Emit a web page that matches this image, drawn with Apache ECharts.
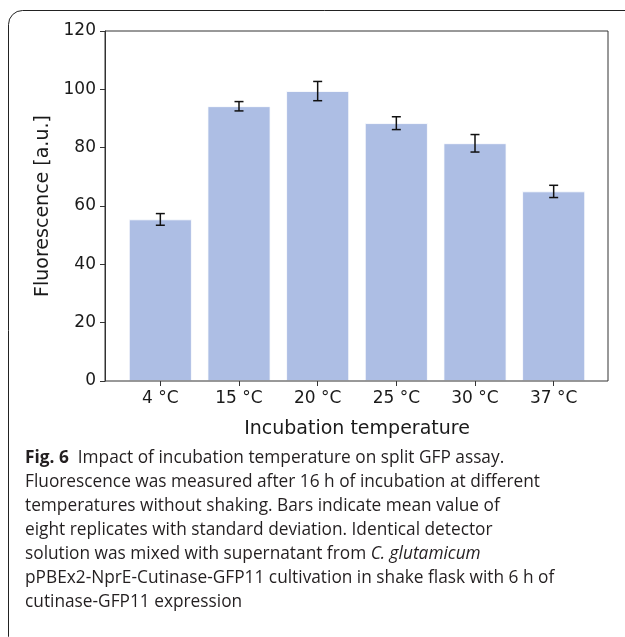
<!DOCTYPE html>
<html><head><meta charset="utf-8">
<script src="https://cdn.jsdelivr.net/npm/echarts@6/dist/echarts.min.js"></script>
<style>html,body{margin:0;padding:0;background:#fff}#c{width:625px;height:637px}</style>
</head><body><div id="c"></div>
<script>
const categories = ['4 °C', '15 °C', '20 °C', '25 °C', '30 °C', '37 °C'];
const meanValues = [55.4, 94.2, 99.4, 88.4, 81.5, 65.0];
const sdValues = [2.0, 1.6, 3.3, 2.2, 3.0, 2.1];
const yTicks = [0, 20, 40, 60, 80, 100, 120];
const yAxisTitle = 'Fluorescence [a.u.]';
const xAxisTitle = 'Incubation temperature';
const captionLines = [
  '{b|Fig. 6}  Impact of incubation temperature on split GFP assay.',
  'Fluorescence was measured after 16 h of incubation at different',
  'temperatures without shaking. Bars indicate mean value of',
  'eight replicates with standard deviation. Identical detector',
  'solution was mixed with supernatant from {i|C. glutamicum}',
  'pPBEx2-NprE-Cutinase-GFP11 cultivation in shake flask with 6 h of',
  'cutinase-GFP11 expression'
];

const capFont = '"Open Sans", "Noto Sans", sans-serif';
const capSize = 17.3;
const chart = echarts.init(document.getElementById('c'), null, {renderer: 'canvas'});

const graphics = [{
  type: 'rect', z: -10, silent: true,
  shape: {x: 8.5, y: 10.5, width: 700, height: 640, r: 14},
  style: {fill: 'none', stroke: '#222', lineWidth: 1}
}];
captionLines.forEach((line, k) => {
  graphics.push({
    type: 'text', left: 25, top: 450 + k * 24, silent: true,
    style: {
      text: line, fill: '#231f20', fontSize: capSize, fontFamily: capFont,
      rich: {
        b: {fontWeight: 'bold', fontSize: capSize, fontFamily: capFont, fill: '#231f20'},
        i: {fontStyle: 'italic', fontSize: capSize, fontFamily: capFont, fill: '#231f20'}
      }
    }
  });
});

const option = {
  animation: false,
  backgroundColor: '#fff',
  textStyle: {fontFamily: '"DejaVu Sans", sans-serif'},
  graphic: graphics,
  grid: [
    {left: 105, right: 17, top: 31, bottom: 256, show: true, borderColor: '#333', borderWidth: 1, backgroundColor: 'transparent', z: 5},
    {left: 121, right: 32, top: 31, bottom: 256, show: false}
  ],
  xAxis: [
    {gridIndex: 0, type: 'value', min: 0, max: 1, show: false},
    {gridIndex: 1, type: 'category', data: categories, boundaryGap: true,
     axisLine: {show: false},
     axisTick: {show: true, alignWithLabel: true, length: 5, lineStyle: {color: '#333', width: 1}},
     axisLabel: {fontSize: 17, color: '#1a1a1a', margin: 9, fontFamily: '"DejaVu Sans", sans-serif'},
     name: xAxisTitle, nameLocation: 'middle', nameGap: 39,
     nameTextStyle: {fontSize: 19, color: '#1a1a1a', fontFamily: '"DejaVu Sans", sans-serif'}}
  ],
  yAxis: [
    {gridIndex: 0, type: 'value', min: yTicks[0], max: yTicks[yTicks.length - 1], interval: 20,
     axisLine: {show: true, lineStyle: {color: '#333', width: 1}},
     axisTick: {show: true, length: 5, lineStyle: {color: '#333', width: 1}},
     axisLabel: {fontSize: 17, color: '#1a1a1a', margin: 9, fontFamily: '"DejaVu Sans", sans-serif'},
     splitLine: {show: false},
     name: yAxisTitle, nameLocation: 'middle', nameGap: 50,
     nameTextStyle: {fontSize: 19, color: '#1a1a1a', fontFamily: '"DejaVu Sans", sans-serif'}},
    {gridIndex: 1, type: 'value', min: yTicks[0], max: yTicks[yTicks.length - 1], show: false}
  ],
  series: [
    {type: 'bar', xAxisIndex: 1, yAxisIndex: 1, data: meanValues, barWidth: '80%',
     itemStyle: {color: '#adbee4', borderColor: '#ffffff', borderWidth: 0.8}},
    {type: 'custom', xAxisIndex: 1, yAxisIndex: 1, z: 10,
     data: categories.map((c, i) => [i, meanValues[i], sdValues[i]]),
     renderItem: function (params, api) {
       const x = api.value(0), y = api.value(1), e = api.value(2);
       const top = api.coord([x, y + e]);
       const bot = api.coord([x, y - e]);
       const hw = 4.5;
       const st = {stroke: '#111', lineWidth: 1.5};
       return {type: 'group', children: [
         {type: 'line', shape: {x1: top[0], y1: top[1], x2: bot[0], y2: bot[1]}, style: st},
         {type: 'line', shape: {x1: top[0] - hw, y1: top[1], x2: top[0] + hw, y2: top[1]}, style: st},
         {type: 'line', shape: {x1: bot[0] - hw, y1: bot[1], x2: bot[0] + hw, y2: bot[1]}, style: st}
       ]};
     }}
  ]
};
chart.setOption(option);
</script></body></html>
